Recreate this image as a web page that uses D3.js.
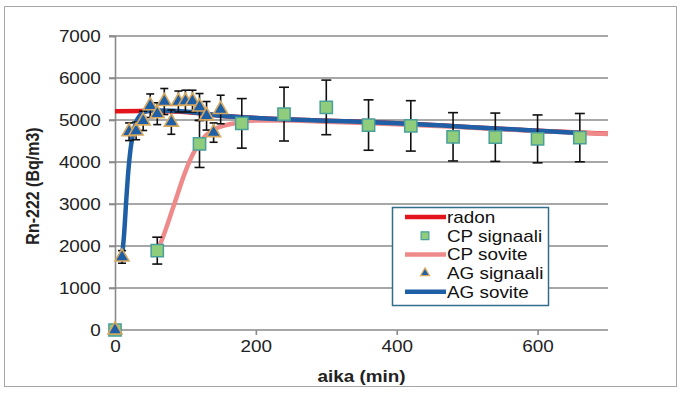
<!DOCTYPE html>
<html>
<head>
<meta charset="utf-8">
<script src="https://cdn.jsdelivr.net/npm/d3@7"></script>
<style>
  body { margin: 0; background: #fff; }
  svg { display: block; font-family: "Liberation Sans", Arial, sans-serif; }
</style>
</head>
<body>
<svg id="chart" width="680" height="393"></svg>
<script>
// x ticks / y ticks
const xTicks = [0, 200, 400, 600];
const yTicks = [0, 1000, 2000, 3000, 4000, 5000, 6000, 7000];

// radon reference curve
const radonTime = [0, 60, 120, 150, 200, 300, 400, 500, 600, 700];
const radonValue = [5210, 5215, 5160, 5100, 5050, 4985, 4925, 4835, 4745, 4670];

// CP measurements and fit
const cpTime = [0, 60, 120, 180, 240, 300, 360, 420, 480, 540, 600, 660];
const cpValue = [0, 1890, 4430, 4920, 5140, 5300, 4880, 4860, 4600, 4590, 4550, 4580];
const cpError = [0, 320, 560, 590, 640, 650, 600, 600, 575, 575, 570, 575];
const cpFitTime = [60, 65, 83, 99, 111, 125, 139, 158, 177, 200, 250, 300, 400, 500, 600, 700];
const cpFitValue = [1900, 2080, 2940, 3730, 4200, 4560, 4760, 4880, 4940, 4990, 4990, 4960, 4900, 4820, 4740, 4665];

// AG measurements and fit
const agTime = [0, 10, 20, 30, 40, 50, 60, 70, 80, 90, 100, 110, 120, 130, 140, 150];
const agValue = [0, 1740, 4720, 4740, 4980, 5340, 5150, 5440, 4950, 5440, 5450, 5450, 5310, 5100, 4700, 5250];
const agError = [0, 150, 210, 210, 230, 280, 260, 310, 290, 250, 260, 260, 320, 340, 230, 340];
const agFitTime = [10, 13, 16, 19, 22, 26, 30, 35, 40, 50, 60, 80, 100, 120, 150, 200, 300, 400, 500, 600, 660];
const agFitValue = [1750, 2300, 3100, 3800, 4300, 4700, 4950, 5100, 5180, 5220, 5225, 5220, 5200, 5165, 5100, 5050, 4985, 4925, 4835, 4745, 4690];

const legendItems = [
  { name: "radon", kind: "line", color: "#e3141b" },
  { name: "CP signaali", kind: "square" },
  { name: "CP sovite", kind: "line", color: "#ef8a8a" },
  { name: "AG signaali", kind: "triangle" },
  { name: "AG sovite", kind: "line", color: "#1f5fa6" }
];

const stretch = "scale(1.18,1)";
const grid = "#8a8a8a";

const svg = d3.select("#chart");

// outer frame
svg.append("rect")
  .attr("x", 4.5).attr("y", 6.5).attr("width", 672).attr("height", 380)
  .attr("fill", "#fff").attr("stroke", "#a6a6a6");

const x = d3.scaleLinear().domain([0, 700]).range([115, 608]);
const y = d3.scaleLinear().domain([0, 7000]).range([330, 36]);

// gridlines
svg.append("g").selectAll("line")
  .data(yTicks)
  .join("line")
  .attr("x1", x(0) - 6).attr("x2", x(700))
  .attr("y1", d => y(d)).attr("y2", d => y(d))
  .attr("stroke", grid).attr("stroke-width", 1.6);

// y axis
const yAxis = svg.append("g")
  .attr("transform", `translate(${x(0)},0)`)
  .call(d3.axisLeft(y).tickValues(yTicks).tickSize(6).tickPadding(6).tickFormat(d3.format("d")));
yAxis.select(".domain").attr("stroke", grid).attr("stroke-width", 1.6);
yAxis.selectAll(".tick line").attr("stroke", grid).attr("stroke-width", 1.6);
yAxis.selectAll(".tick text")
  .attr("font-size", 16).attr("fill", "#222")
  .attr("font-family", "Liberation Sans, Arial, sans-serif")
  .attr("transform", stretch);

// x axis
const xAxis = svg.append("g")
  .attr("transform", `translate(0,${y(0)})`)
  .call(d3.axisBottom(x).tickValues(xTicks).tickSize(5).tickPadding(6).tickFormat(d3.format("d")));
xAxis.select(".domain").remove();
xAxis.selectAll(".tick line").attr("stroke", grid).attr("stroke-width", 1.6);
xAxis.selectAll(".tick text")
  .attr("font-size", 16).attr("fill", "#222")
  .attr("font-family", "Liberation Sans, Arial, sans-serif")
  .attr("transform", stretch);

// axis titles
svg.append("text")
  .attr("transform", `translate(${(x(0) + x(700)) / 2},382) ${stretch}`)
  .attr("text-anchor", "middle")
  .attr("font-size", 16).attr("font-weight", "bold").attr("fill", "#222")
  .text("aika (min)");

svg.append("text")
  .attr("transform", `translate(39,186) ${stretch} rotate(-90)`)
  .attr("text-anchor", "middle")
  .attr("font-size", 16).attr("font-weight", "bold").attr("fill", "#222")
  .text("Rn-222 (Bq/m3)");

// lines
const line = d3.line()
  .x(d => x(d[0]))
  .y(d => y(d[1]))
  .curve(d3.curveMonotoneX);

svg.append("path")
  .attr("d", line(d3.zip(radonTime, radonValue)))
  .attr("fill", "none").attr("stroke", "#e3141b").attr("stroke-width", 4.5);

svg.append("path")
  .attr("d", line(d3.zip(cpFitTime, cpFitValue)))
  .attr("fill", "none").attr("stroke", "#ef8a8a").attr("stroke-width", 4.5);

svg.append("path")
  .attr("d", line(d3.zip(agFitTime, agFitValue)))
  .attr("fill", "none").attr("stroke", "#1f5fa6").attr("stroke-width", 4.5);

// error bars
function errorBars(times, values, errs, cap) {
  const g = svg.append("g").attr("stroke", "#111").attr("stroke-width", 1.6);
  const data = d3.zip(times, values, errs).filter(d => d[2] > 0);
  g.selectAll("line.v").data(data).join("line").attr("class", "v")
    .attr("x1", d => x(d[0])).attr("x2", d => x(d[0]))
    .attr("y1", d => y(d[1] - d[2])).attr("y2", d => y(d[1] + d[2]));
  g.selectAll("line.t").data(data).join("line").attr("class", "t")
    .attr("x1", d => x(d[0]) - cap).attr("x2", d => x(d[0]) + cap)
    .attr("y1", d => y(d[1] + d[2])).attr("y2", d => y(d[1] + d[2]));
  g.selectAll("line.b").data(data).join("line").attr("class", "b")
    .attr("x1", d => x(d[0]) - cap).attr("x2", d => x(d[0]) + cap)
    .attr("y1", d => y(d[1] - d[2])).attr("y2", d => y(d[1] - d[2]));
}
errorBars(cpTime, cpValue, cpError, 5);
errorBars(agTime, agValue, agError, 4);

// markers
const square = d3.symbol().type(d3.symbolSquare).size(150);
const triangle = d3.symbol().type(d3.symbolTriangle).size(85);

svg.append("g").selectAll("path")
  .data(d3.zip(cpTime, cpValue))
  .join("path")
  .attr("d", square)
  .attr("transform", d => `translate(${x(d[0])},${y(d[1])})`)
  .attr("fill", "#8fcd7c").attr("stroke", "#4a9f9a").attr("stroke-width", 1.5);

svg.append("g").selectAll("path")
  .data(d3.zip(agTime, agValue))
  .join("path")
  .attr("d", triangle)
  .attr("transform", d => `translate(${x(d[0])},${y(d[1])})`)
  .attr("fill", "#1f5fa6").attr("stroke", "#d8a75e").attr("stroke-width", 1.6);

// legend
const lg = svg.append("g");
lg.append("rect")
  .attr("x", 392.5).attr("y", 207.5).attr("width", 156).attr("height", 98)
  .attr("fill", "#fff").attr("stroke", "#336e8c").attr("stroke-width", 1.5);

const rows = lg.selectAll("g.item")
  .data(legendItems)
  .join("g").attr("class", "item")
  .attr("transform", (d, i) => `translate(0,${217 + i * 18.7})`);

rows.filter(d => d.kind === "line").append("line")
  .attr("x1", 405).attr("x2", 446).attr("y1", 0).attr("y2", 0)
  .attr("stroke", d => d.color).attr("stroke-width", 4.5);

rows.filter(d => d.kind === "square").append("path")
  .attr("d", d3.symbol().type(d3.symbolSquare).size(60))
  .attr("transform", "translate(425,0)")
  .attr("fill", "#8fcd7c").attr("stroke", "#4a9f9a").attr("stroke-width", 1.2);

rows.filter(d => d.kind === "triangle").append("path")
  .attr("d", d3.symbol().type(d3.symbolTriangle).size(35))
  .attr("transform", "translate(425,0)")
  .attr("fill", "#1f5fa6").attr("stroke", "#d8a75e").attr("stroke-width", 1.2);

rows.append("text")
  .attr("transform", `translate(447,6) ${stretch}`)
  .attr("font-size", 16).attr("fill", "#111")
  .text(d => d.name);
</script>
</body>
</html>
